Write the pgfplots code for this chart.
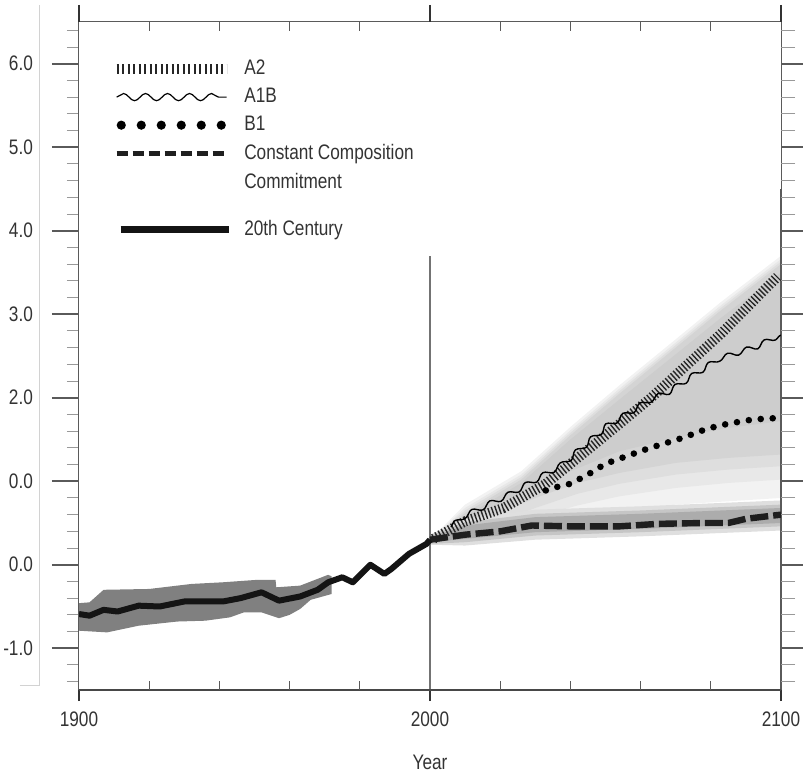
\documentclass[border=0pt]{standalone}
\usepackage{pgfplots}
\pgfplotsset{compat=1.18}
\usepackage{fontspec}
\setmainfont{Liberation Sans}[FakeStretch=0.82]
\usetikzlibrary{decorations.pathmorphing}
\definecolor{txt}{HTML}{333333}
\definecolor{axgray}{HTML}{5A5A5A}
\newcommand{\rs}{\rule[-2pt]{0pt}{9pt}}

\pgfplotsset{
  base/.style={
    width=351pt, height=334pt, scale only axis,
    xmin=1900, xmax=2100, ymin=-1.5, ymax=6.5,
    at={(0pt,0pt)}, anchor=south west,
    tick label style={font=\fontsize{10.5}{12}\selectfont, text=txt},
    label style={font=\fontsize{10.5}{12}\selectfont, text=txt},
  },
}

\begin{document}
\begin{tikzpicture}
\useasboundingbox (-39.5pt,-43pt) rectangle (362pt,345pt);

% data
\begin{axis}[base, clip=false,
    axis line style={draw=none}, xtick=\empty, ytick=\empty,
    legend style={at={(0.038,0.954)}, anchor=north west, draw=none, fill=none,
      font=\fontsize{10.5}{12.5}\selectfont, text=txt, row sep=2.3pt, column sep=4pt,
      nodes={inner sep=1.5pt}},
    legend cell align=left,
    legend image code/.code={\draw[#1] (0pt,0pt) -- (55pt,0pt);},
]
% 20th century uncertainty
\addplot[fill=gray, draw=none, forget plot] coordinates {
 (1900,-0.46) (1903,-0.45) (1907,-0.30) (1920,-0.29) (1932,-0.23) (1941,-0.21)
 (1951,-0.18) (1956,-0.18) (1956.2,-0.27) (1963,-0.25) (1971,-0.12) (1972,-0.14)
 (1972,-0.35) (1966,-0.42) (1963,-0.53) (1960,-0.60) (1957,-0.64) (1952,-0.57)
 (1947,-0.57) (1943,-0.63) (1936,-0.67) (1928,-0.68) (1917,-0.73) (1908,-0.81)
 (1900,-0.79)} -- cycle;
% projection spread, blurred edges
\addplot[fill=gray!10, draw=none, forget plot] coordinates {
 (2000,0.30) (2010,0.72) (2026,1.12) (2040,1.65) (2054,2.15) (2070,2.70) (2083,3.15) (2100,3.70)
 (2100,0.80) (2085,0.76) (2070,0.72) (2054,0.64) (2042,0.58) (2030,0.50) (2020,0.40) (2010,0.32)} -- cycle;
\addplot[fill=gray!18, draw=none, forget plot] coordinates {
 (2000,0.30) (2010,0.68) (2026,1.08) (2040,1.61) (2054,2.11) (2070,2.66) (2083,3.11) (2100,3.66)
 (2100,1.02) (2085,0.98) (2070,0.92) (2054,0.82) (2042,0.71) (2030,0.57) (2020,0.44) (2010,0.34)} -- cycle;
\addplot[fill=gray!26, draw=none, forget plot] coordinates {
 (2000,0.30) (2010,0.65) (2026,1.05) (2040,1.58) (2054,2.08) (2070,2.63) (2083,3.08) (2100,3.63)
 (2100,1.18) (2085,1.14) (2070,1.08) (2054,0.97) (2042,0.85) (2030,0.68) (2020,0.52) (2010,0.38)} -- cycle;
\addplot[fill=gray!34, draw=none, forget plot] coordinates {
 (2000,0.30) (2010,0.62) (2026,1.02) (2040,1.55) (2054,2.05) (2070,2.60) (2083,3.05) (2100,3.60)
 (2100,1.32) (2085,1.28) (2070,1.22) (2054,1.10) (2042,0.98) (2030,0.80) (2020,0.62) (2010,0.45)} -- cycle;
\addplot[fill=gray!39, draw=none, forget plot] coordinates {
 (2010,0.58) (2026,0.98) (2040,1.50) (2054,1.98) (2070,2.52) (2083,2.96) (2100,3.50)
 (2100,1.72) (2085,1.64) (2070,1.52) (2054,1.36) (2040,1.12) (2026,0.86) (2010,0.52)} -- cycle;
% commitment spread
\addplot[fill=gray!25, draw=none, forget plot] coordinates {
 (2000,0.36) (2010,0.55) (2030,0.66) (2060,0.70) (2100,0.77)
 (2100,0.41) (2060,0.34) (2030,0.30) (2010,0.23) (2000,0.24)} -- cycle;
\addplot[fill=gray!45, draw=none, forget plot] coordinates {
 (2000,0.35) (2010,0.51) (2030,0.61) (2060,0.65) (2100,0.72)
 (2100,0.46) (2060,0.39) (2030,0.35) (2010,0.27) (2000,0.25)} -- cycle;
\addplot[fill=gray!65, draw=none, forget plot] coordinates {
 (2000,0.33) (2010,0.47) (2030,0.57) (2060,0.61) (2100,0.68)
 (2100,0.50) (2060,0.43) (2030,0.39) (2010,0.31) (2000,0.27)} -- cycle;
% year 2000 marker
\addplot[draw=gray!90!black, line width=1.3pt, forget plot] coordinates {(2000,-1.5) (2000,3.7)};
% right frame, heavier part
\addplot[draw=axgray, line width=1.1pt, forget plot] coordinates {(2100,-1.5) (2100,4.5)};

% A2
\addplot[draw=black!85, line width=5pt, dash pattern=on 0.7pt off 1.1pt,
  legend image code/.code={\draw[black!85, line width=4.6pt, dash pattern=on 1pt off 1.75pt] (0pt,0pt) -- (55pt,0pt);}]
 coordinates {(2001,0.31) (2010,0.52) (2021,0.68) (2033,0.97) (2048,1.48) (2063,2.00) (2083,2.77) (2099,3.45)};
\addlegendentry{\rs A2}
% A1B
\addplot[draw=black, line width=0.7pt, decorate, decoration={snake, amplitude=1.3pt, segment length=10pt},
  legend image code/.code={\draw[black, line width=0.6pt, decorate, decoration={snake, amplitude=1.8pt, segment length=11pt}] (0pt,0pt) -- (55pt,0pt);}]
 coordinates {(2006,0.45) (2009,0.56) (2021,0.80) (2035,1.13) (2048,1.60) (2062,1.96) (2067,2.05) (2080,2.41) (2091,2.56) (2100,2.75)};
\addlegendentry{\rs A1B}
% B1
\addplot[draw=black, line width=3.3pt, line cap=round, dash pattern=on 0pt off 6pt,
  legend image code/.code={\draw[black, line width=4.6pt, line cap=round, dash pattern=on 0pt off 10pt] (2.3pt,0pt) -- (56pt,0pt);}]
 coordinates {(2033,0.89) (2036,0.93) (2040,0.97) (2045,1.08) (2050,1.21) (2056,1.30) (2062,1.39) (2072,1.52) (2079,1.63) (2085,1.69) (2092,1.74) (2100,1.76)};
\addlegendentry{\rs B1}
% constant composition commitment
\addplot[draw=black!88, line width=3.2pt, dash pattern=on 9pt off 2.5pt,
  legend image code/.code={\draw[black!88, line width=2.6pt, dash pattern=on 5.6pt off 2.4pt] (0pt,0pt) -- (55pt,0pt);}]
 coordinates {(2000,0.30) (2010,0.36) (2020,0.40) (2029,0.47) (2040,0.46) (2054,0.46) (2065,0.49) (2078,0.50) (2085,0.50) (2090,0.55) (2100,0.60)};
\addlegendentry{\rs Constant Composition}
\addlegendimage{empty legend}
\addlegendentry{\rs Commitment}
\addlegendimage{empty legend}
\addlegendentry{\rule{0pt}{2.5pt}}
% 20th century
\addplot[draw=black!92, line width=3pt, line join=round,
  legend image code/.code={\draw[black!92, line width=3.4pt] (2pt,0pt) -- (56pt,0pt);}]
 coordinates {(1900,-0.59) (1903,-0.61) (1907,-0.54) (1911,-0.56) (1917,-0.49) (1923,-0.50) (1930,-0.44)
 (1941,-0.44) (1946,-0.40) (1952,-0.33) (1957,-0.43) (1963,-0.38) (1968,-0.30) (1971,-0.21) (1973,-0.18)
 (1975,-0.15) (1978,-0.21) (1983,0.00) (1987,-0.11) (1989,-0.05) (1994,0.13) (1999,0.25) (2000,0.30)};
\addlegendentry{\rs 20th Century}
\end{axis}

% left y ticks, frame
\begin{axis}[base,
    axis line style={draw=axgray, line width=0.5pt},
    xtick=\empty,
    ytick={-1,0,1,2,3,4,5,6},
    yticklabels={-1.0,0.0,0.0,2.0,3.0,4.0,5.0,6.0},
    minor ytick={-1.4,-1.2,-0.8,-0.6,-0.4,-0.2,0.2,0.4,0.6,0.8,1.2,1.4,1.6,1.8,2.2,2.4,2.6,2.8,3.2,3.4,3.6,3.8,4.2,4.4,4.6,4.8,5.2,5.4,5.6,5.8,6.2,6.4},
    ytick pos=left, tick align=outside,
    major tick length=13.5pt, minor tick length=6pt,
    major tick style={draw=axgray, line width=0.9pt},
    minor tick style={draw=gray!80, line width=0.5pt},
    yticklabel style={xshift=-6pt},
]
\end{axis}

% right y ticks
\begin{axis}[base,
    axis line style={draw=none},
    xtick=\empty,
    ytick={-1,0,1,2,3,4,5,6}, yticklabels={},
    minor ytick={-1.4,-1.2,-0.8,-0.6,-0.4,-0.2,0.2,0.4,0.6,0.8,1.2,1.4,1.6,1.8,2.2,2.4,2.6,2.8,3.2,3.4,3.6,3.8,4.2,4.4,4.6,4.8,5.2,5.4,5.6,5.8,6.2,6.4},
    ytick pos=right, tick align=outside,
    major tick length=11pt, minor tick length=7pt,
    major tick style={draw=axgray, line width=0.9pt},
    minor tick style={draw=gray!80, line width=0.5pt},
]
\end{axis}

% bottom x axis
\begin{axis}[base,
    axis x line*=bottom, axis y line=none,
    x axis line style={-, draw=axgray!80!black, line width=1.1pt},
    ytick=\empty,
    xtick={1900,2000,2100}, xticklabels={1900,2000,2100},
    tick align=outside, major tick length=5.5pt,
    major tick style={draw=black!80, line width=1.3pt},
    xticklabel style={yshift=-2pt},
    xlabel={Year}, xlabel style={yshift=-7pt},
]
\end{axis}

% top x axis
\begin{axis}[base,
    axis line style={draw=none},
    ytick=\empty,
    xtick={1900,2000,2100}, xticklabels={},
    xtick pos=right, tick align=outside, major tick length=8.5pt,
    major tick style={draw=black!80, line width=1.3pt},
]
\end{axis}

% minor x ticks, inside
\begin{axis}[base,
    axis line style={draw=none},
    ytick=\empty,
    xtick={1920,1940,1960,1980,2020,2040,2060,2080}, xticklabels={},
    xtick pos=both, tick align=inside, major tick length=4.5pt,
    major tick style={draw=axgray, line width=0.6pt},
]
\end{axis}

\draw[gray!35, line width=0.5pt] (-29.5pt,2pt) -- (-19.5pt,2pt) -- (-19.5pt,342.5pt);
\end{tikzpicture}
\end{document}
